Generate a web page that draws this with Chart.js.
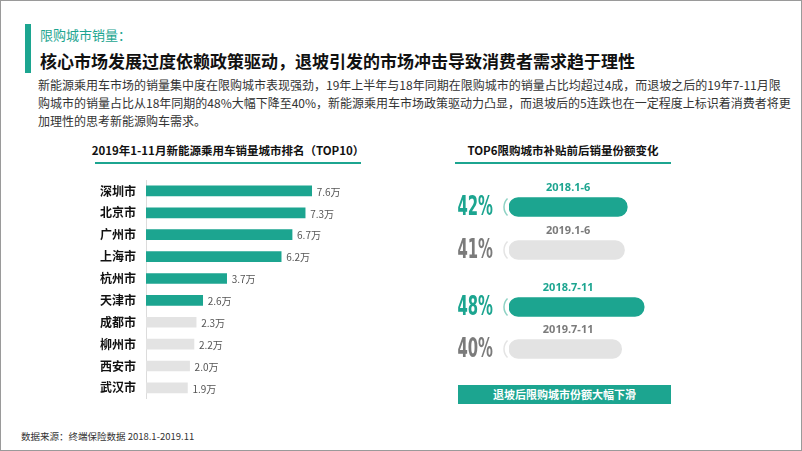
<!DOCTYPE html>
<html>
<head>
<meta charset="utf-8">
<script src="https://cdn.jsdelivr.net/npm/chart.js@4/dist/chart.umd.min.js"></script>
<style>
  html, body { margin: 0; padding: 0; }
  body {
    width: 802px; height: 451px; position: relative; overflow: hidden;
    background: #fff; font-family: "Noto Sans CJK SC", "Noto Sans", sans-serif;
    box-sizing: border-box; border: 1px solid #9a9a9a;
  }
  .abs { position: absolute; }
  #tag { left: 24px; top: 23px; width: 6px; height: 49px; background: #1ca590; }
  #sub { left: 39px; top: 25px; font-size: 13px; color: #1ca590; line-height: 18px; }
  #title { left: 39px; top: 49px; font-size: 17px; font-weight: bold; color: #111; line-height: 22px; white-space: nowrap; }
  #para { left: 37px; top: 75px; font-size: 12px; color: #333; line-height: 18px; white-space: nowrap; }
  .ctitle { font-size: 12px; font-weight: bold; color: #111; line-height: 16px; white-space: nowrap;
            display: flex; justify-content: center; border-bottom: 2px solid #1ca590; padding-bottom: 4px; }
  #ltitle { left: 94px; top: 141px; width: 266px; font-size: 11.5px; }
  #rtitle { left: 454px; top: 141px; width: 216px; font-size: 11.5px; }
  #note { left: 457px; top: 384px; width: 213px; height: 19px; background: #1ca590; color: #fff;
          font-size: 11px; font-weight: bold; text-align: center; line-height: 19px; }
  #src { left: 20px; top: 428px; font-size: 9.5px; color: #333; line-height: 14px; }
  canvas { position: absolute; }
</style>
</head>
<body>
<div class="abs" id="tag"></div>
<div class="abs" id="sub">限购城市销量：</div>
<div class="abs" id="title">核心市场发展过度依赖政策驱动，退坡引发的市场冲击导致消费者需求趋于理性</div>
<div class="abs" id="para">新能源乘用车市场的销量集中度在限购城市表现强劲，19年上半年与18年同期在限购城市的销量占比均超过4成，而退坡之后的19年7-11月限<br>购城市的销量占比从18年同期的48%大幅下降至40%，新能源乘用车市场政策驱动力凸显，而退坡后的5连跌也在一定程度上标识着消费者将更<br>加理性的思考新能源购车需求。</div>
<div class="abs ctitle" id="ltitle"><span>2019年1-11月新能源乘用车销量城市排名（TOP10）</span></div>
<div class="abs ctitle" id="rtitle"><span>TOP6限购城市补贴前后销量份额变化</span></div>
<div class="abs" id="note">退坡后限购城市份额大幅下滑</div>
<div class="abs" id="src">数据来源：终端保险数据 2018.1-2019.11</div>

<canvas id="cities" style="left:20px;top:160px" width="343" height="255"></canvas>
<canvas id="share1" style="left:440px;top:170px" width="237" height="110"></canvas>
<canvas id="share2" style="left:440px;top:270px" width="237" height="110"></canvas>

<script>
const TEAL = '#1ca590';
const LIGHT = '#e3e3e3';
const GREY_TXT = '#7b7b7b';

// left chart: top 10 cities, sales in 万
const cities = ['深圳市', '北京市', '广州市', '上海市', '杭州市', '天津市', '成都市', '柳州市', '西安市', '武汉市'];
const sales = [7.6, 7.3, 6.7, 6.2, 3.7, 2.6, 2.3, 2.2, 2.0, 1.9];
const topCount = 6; // first six are the restricted cities, drawn in teal

// right charts: share of the top6 restricted cities
const periodsH1 = ['2018.1-6', '2019.1-6'];
const sharesH1 = [42, 41];
const periodsH2 = ['2018.7-11', '2019.7-11'];
const sharesH2 = [48, 40];

const valueLabels = {
  id: 'valueLabels',
  afterDatasetsDraw(chart) {
    const ctx = chart.ctx;
    const meta = chart.getDatasetMeta(0);
    ctx.save();
    ctx.font = '10px "Noto Sans CJK SC", sans-serif';
    ctx.fillStyle = '#555';
    ctx.textAlign = 'left';
    ctx.textBaseline = 'middle';
    meta.data.forEach((bar, i) => {
      ctx.fillText(sales[i].toFixed(1) + '万', bar.x + 5, bar.y + 1);
    });
    ctx.restore();
  }
};

new Chart(document.getElementById('cities'), {
  type: 'bar',
  data: {
    labels: cities,
    datasets: [{
      data: sales,
      backgroundColor: sales.map((v, i) => i < topCount ? TEAL : LIGHT),
      barThickness: 10
    }]
  },
  options: {
    indexAxis: 'y',
    responsive: false,
    animation: false,
    layout: { padding: { top: 19, bottom: 12, right: 0 } },
    plugins: { legend: { display: false }, tooltip: { enabled: false } },
    scales: {
      x: { display: false, min: 0, max: 10 },
      y: {
        grid: { display: false, drawTicks: false },
        border: { display: true, color: '#dcdcdc', width: 1 },
        ticks: { padding: 10, color: '#111', font: { size: 12, weight: 'bold', family: '"Noto Sans CJK SC", sans-serif' } },
        afterFit(scale) { scale.width = 125; }
      }
    }
  },
  plugins: [valueLabels]
});

// big percentage, period text and little bracket for the pill charts
function pillDecor(periods, shares) {
  return {
    id: 'pillDecor',
    afterDatasetsDraw(chart) {
      const ctx = chart.ctx;
      const meta = chart.getDatasetMeta(0);
      const x0 = chart.scales.x.getPixelForValue(0);
      meta.data.forEach((bar, i) => {
        const col = i === 0 ? TEAL : GREY_TXT;
        ctx.save();
        // period caption above the bar
        ctx.font = 'bold 11px "Noto Sans", sans-serif';
        ctx.fillStyle = col;
        ctx.textAlign = 'center';
        ctx.textBaseline = 'middle';
        ctx.fillText(periods[i], chart.scales.x.getPixelForValue(21), bar.y - 19);
        // bracket
        ctx.beginPath();
        ctx.strokeStyle = i === 0 ? '#8fd2c4' : '#e4e4e4';
        ctx.lineWidth = 1.5;
        ctx.arc(x0 + 7, bar.y, 12, Math.PI * 0.75, Math.PI * 1.25);
        ctx.stroke();
        // percentage, squeezed to look like a condensed heavy face
        ctx.translate(52, bar.y + 1);
        ctx.scale(0.55, 1);
        ctx.font = 'bold 27px "DejaVu Sans", sans-serif';
        ctx.textAlign = 'right';
        ctx.fillStyle = col;
        ctx.fillText(shares[i] + '%', 0, 0);
        ctx.restore();
      });
    }
  };
}

function pillChart(id, periods, shares, padTop, areaH) {
  return new Chart(document.getElementById(id), {
    type: 'bar',
    data: {
      labels: periods,
      datasets: [{
        data: shares,
        backgroundColor: [TEAL, LIGHT],
        barThickness: 19,
        borderRadius: 10,
        borderSkipped: false
      }]
    },
    options: {
      indexAxis: 'y',
      responsive: false,
      animation: false,
      layout: { padding: { left: 68, top: padTop, bottom: 110 - padTop - areaH, right: 0 } },
      plugins: { legend: { display: false }, tooltip: { enabled: false } },
      scales: {
        x: { display: false, min: 0, max: 60 },
        y: { display: false }
      }
    },
    plugins: [pillDecor(periods, shares)]
  });
}

pillChart('share1', periodsH1, sharesH1, 14.5, 86);
pillChart('share2', periodsH2, sharesH2, 15, 84);
</script>
</body>
</html>
